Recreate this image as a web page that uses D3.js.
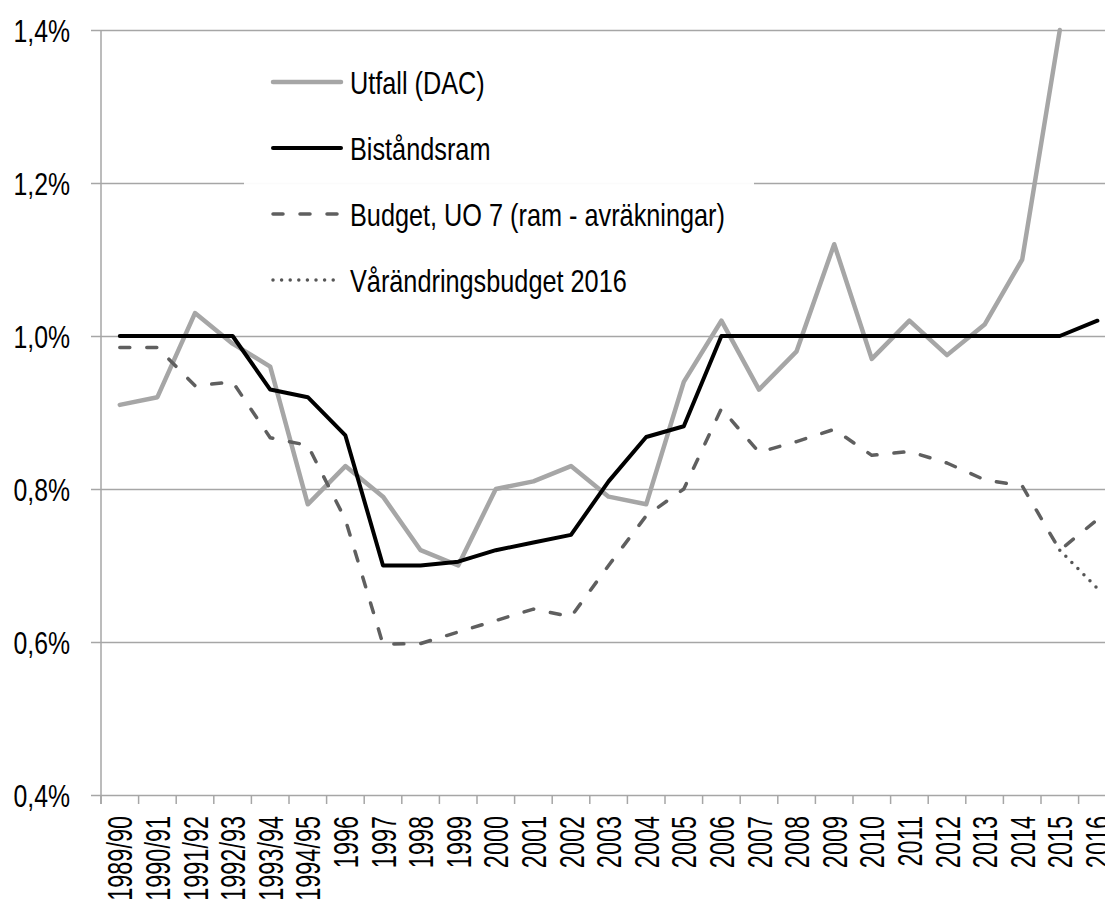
<!DOCTYPE html>
<html>
<head>
<meta charset="utf-8">
<script src="https://cdn.jsdelivr.net/npm/d3@7"></script>
<style>
  body { margin: 0; background: #fff; }
  svg { display: block; }
  text { font-family: "Liberation Sans", Arial, sans-serif; fill: #000; }
</style>
</head>
<body>
<svg id="chart" width="1105" height="907"></svg>
<script>
// categories (years / budget years)
const years = ["1989/90", "1990/91", "1991/92", "1992/93", "1993/94", "1994/95",
  "1996", "1997", "1998", "1999", "2000", "2001", "2002", "2003", "2004", "2005",
  "2006", "2007", "2008", "2009", "2010", "2011", "2012", "2013", "2014", "2015", "2016"];

// share of GNI, in percent
const utfall = [0.91, 0.92, 1.03, 0.99, 0.96, 0.78, 0.83, 0.79, 0.72, 0.70, 0.80, 0.81, 0.83,
  0.79, 0.78, 0.94, 1.02, 0.93, 0.98, 1.12, 0.97, 1.02, 0.975, 1.015, 1.10, 1.40, null];
const bistandsram = [1.0, 1.0, 1.0, 1.0, 0.93, 0.92, 0.87, 0.70, 0.70, 0.705, 0.72, 0.73, 0.74,
  0.81, 0.868, 0.882, 1.0, 1.0, 1.0, 1.0, 1.0, 1.0, 1.0, 1.0, 1.0, 1.0, 1.02];
const budget = [0.985, 0.985, 0.935, 0.94, 0.867, 0.857, 0.76, 0.597, 0.598, 0.613, 0.628, 0.643, 0.633,
  0.70, 0.765, 0.80, 0.905, 0.848, 0.862, 0.878, 0.844, 0.849, 0.834, 0.812, 0.804, 0.72, 0.76];
const varandring = [null, null, null, null, null, null, null, null, null, null, null, null, null,
  null, null, null, null, null, null, null, null, null, null, null, null, 0.72, 0.67];

const yTicks = [0.4, 0.6, 0.8, 1.0, 1.2, 1.4];

const series = [
  { name: "Utfall (DAC)", values: utfall, color: "#a6a6a6", width: 4.5, dash: null },
  { name: "Biståndsram", values: bistandsram, color: "#000000", width: 4, dash: null },
  { name: "Budget, UO 7 (ram - avräkningar)", values: budget, color: "#5f5f5f", width: 3.5, dash: "10,17" },
  { name: "Vårändringsbudget 2016", values: varandring, color: "#555555", width: 3.5, dash: "0,8.6" }
];

const svg = d3.select("#chart");
const W = 1105;

// the original font is condensed, so squeeze Liberation Sans horizontally
const squeeze = 0.8;      // y tick labels
const squeezeX = 0.67;    // x tick labels

// plot runs past the right edge of the picture, like the original crop
const x = d3.scaleBand().domain(years).range([101, 101 + 37.6 * years.length]);
const y = d3.scaleLinear().domain([0.4, 1.4]).range([795, 30]);
const cx = (d) => x(d) + x.bandwidth() / 2;

const fmt = (v) => v.toFixed(1).replace(".", ",") + "%";

// y axis + gridlines
const yAxis = svg.append("g")
  .attr("transform", "translate(91,0)")
  .call(d3.axisLeft(y).tickValues(yTicks).tickFormat(fmt).tickSize(-(W - 91)));
yAxis.select(".domain").remove();
yAxis.selectAll(".tick line").attr("stroke", "#a6a6a6").attr("stroke-width", 1.5);
yAxis.selectAll(".tick text")
  .attr("font-size", 31)
  .attr("x", 0)
  .attr("dy", "0.36em")
  .attr("transform", `translate(-21,0) scale(${squeeze},1)`);

// vertical axis line
svg.append("line")
  .attr("x1", x.range()[0]).attr("x2", x.range()[0])
  .attr("y1", y(1.4)).attr("y2", y(0.4) + 9)
  .attr("stroke", "#a6a6a6").attr("stroke-width", 1.5);

// x axis: ticks on category boundaries
const bounds = years.map((d) => x(d)).concat([x.range()[1]]);
svg.append("g").selectAll("line")
  .data(bounds)
  .join("line")
  .attr("x1", (d) => d).attr("x2", (d) => d)
  .attr("y1", y(0.4)).attr("y2", y(0.4) + 9)
  .attr("stroke", "#a6a6a6").attr("stroke-width", 1.5);

const xAxis = svg.append("g")
  .attr("transform", `translate(0,${y(0.4)})`)
  .call(d3.axisBottom(x).tickSize(0));
xAxis.select(".domain").remove();
xAxis.selectAll(".tick text")
  .attr("font-size", 35)
  .attr("text-anchor", "end")
  .attr("x", 0)
  .attr("y", 0)
  .attr("dy", "0.36em")
  .attr("transform", `rotate(-90) translate(-21,0) scale(${squeezeX},1)`);

// lines
const line = d3.line()
  .defined((d) => d.v != null)
  .x((d) => cx(d.year))
  .y((d) => y(d.v));

svg.append("g").selectAll("path")
  .data(series)
  .join("path")
  .attr("d", (s) => line(years.map((yr, i) => ({ year: yr, v: s.values[i] }))))
  .attr("fill", "none")
  .attr("stroke", (s) => s.color)
  .attr("stroke-width", (s) => s.width)
  .attr("stroke-dasharray", (s) => s.dash)
  .attr("stroke-linecap", "round")
  .attr("stroke-linejoin", "round");

// legend
const legend = svg.append("g");
legend.append("rect")
  .attr("x", 244).attr("y", 52).attr("width", 510).attr("height", 256)
  .attr("fill", "#fff").attr("opacity", 0.95);

const rowY = d3.scalePoint().domain(series.map((s) => s.name)).range([82, 280]);
const item = legend.selectAll("g.item")
  .data(series)
  .join("g")
  .attr("class", "item")
  .attr("transform", (s) => `translate(0,${rowY(s.name)})`);

item.append("line")
  .attr("x1", 273).attr("x2", 341)
  .attr("stroke", (s) => s.color)
  .attr("stroke-width", (s) => s.width)
  .attr("stroke-dasharray", (s) => s.dash)
  .attr("stroke-linecap", "round");

const labels = item.append("text")
  .attr("dy", "0.36em")
  .attr("font-size", 32)
  .text((s) => s.name);

// fit the longest legend entry to the width it has in the original
const longest = d3.max(labels.nodes(), (n) => n.getComputedTextLength());
const squeezeL = 375 / longest;
labels.attr("transform", `translate(350,0) scale(${squeezeL},1)`);
</script>
</body>
</html>
